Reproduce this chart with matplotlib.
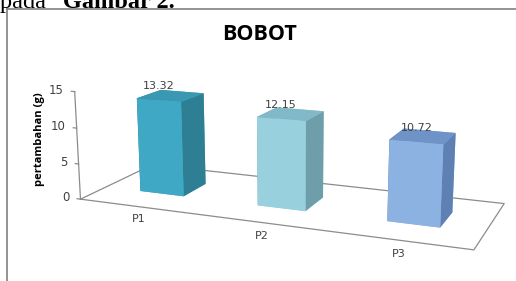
import numpy as np
import matplotlib.pyplot as plt
from matplotlib.lines import Line2D

# data
categories = ['P1', 'P2', 'P3']
values = [13.32, 12.15, 10.72]
z_ticks = [0, 5, 10, 15]

# colours per bar: front, side, top
front_colors = ['#3fa8c5', '#98d0de', '#8cb2e2']
side_colors = ['#2e7e94', '#6f9eab', '#5e80b3']
top_colors = ['#3a98b3', '#82b9c8', '#6f93c7']

fig = plt.figure(figsize=(5.16, 2.81), dpi=100)
ax = fig.add_axes([0.004, -0.194, 1.1, 1.3], projection='3d', computed_zorder=False)
ax.set_proj_type('persp', focal_length=0.5)
ax.view_init(elev=14, azim=-68)

n = len(categories)
xs = np.arange(n) + 0.5
bw, bd = 0.38, 0.34
depth = 1.0

# floor
floor_x = [0, n, n, 0, 0]
floor_y = [0, 0, depth, depth, 0]
floor = ax.plot_surface(np.array([[0, n], [0, n]]), np.array([[0, 0], [depth, depth]]),
                        np.zeros((2, 2)), color='white', shade=False, zorder=1)
floor.set_clip_on(False)
ax.plot(floor_x, floor_y, [0] * 5, color='#8c8c8c', lw=0.9, zorder=2, clip_on=False)

# bars
face_cols = []
for f, s, t in zip(front_colors, side_colors, top_colors):
    # -z, +z, -y, +y, -x, +x
    face_cols += [f, t, f, f, s, s]
bars = ax.bar3d(xs - bw / 2, np.full(n, (depth - bd) / 2), np.zeros(n), bw, bd, values,
                color=face_cols, shade=False, zorder=3)
bars.set_clip_on(False)

# value labels
for x, v in zip(xs, values):
    ax.text(x, (depth - bd) / 2, v + 1.2, f'{v:.2f}', ha='center', va='bottom',
            fontsize=8, color='#404040', zorder=5)

# category labels
for x, c in zip(xs, categories):
    ax.text(x, 0, -1.8, c, ha='center', va='center', fontsize=8, color='#404040', zorder=5)

# vertical axis at front-left corner
ax.plot([0, 0], [0, 0], [0, max(z_ticks)], color='#8c8c8c', lw=0.9, zorder=4, clip_on=False)
for t in z_ticks:
    ax.plot([-0.03, 0], [0, 0], [t, t], color='#8c8c8c', lw=0.9, zorder=4, clip_on=False)
    ax.text(-0.1, 0, t, str(t), ha='right', va='center', fontsize=8.5, color='#404040', zorder=5)

ax.set_xlim(0, n)
ax.set_ylim(0, depth)
ax.set_zlim(0, 15)
ax.set_box_aspect((2.75, 1.0, 0.76), zoom=1.18)
ax.set_axis_off()

fig.text(0.076, 0.505, 'pertambahan (g)', rotation=90, ha='center', va='center',
         fontsize=8, fontweight='bold', family='Open Sans')
fig.text(0.503, 0.877, 'BOBOT', ha='center', va='center', fontsize=15.5,
         fontweight='bold', family='Open Sans')

# page text and frame
fig.text(0.0, 1 - 8 / 281, 'pada ', ha='left', va='baseline', fontsize=17.5,
         family='Liberation Serif')
fig.text(63 / 516, 1 - 8 / 281, 'Gambar 2.', ha='left', va='baseline', fontsize=17.5,
         fontweight='bold', family='Liberation Serif')
fig.add_artist(Line2D([7 / 516, 7 / 516], [0, 1 - 9 / 281], color='#808080', lw=1.2))
fig.add_artist(Line2D([7 / 516, 1], [1 - 9 / 281, 1 - 9 / 281], color='#808080', lw=1.2))

fig.savefig('out.png', dpi=100)
